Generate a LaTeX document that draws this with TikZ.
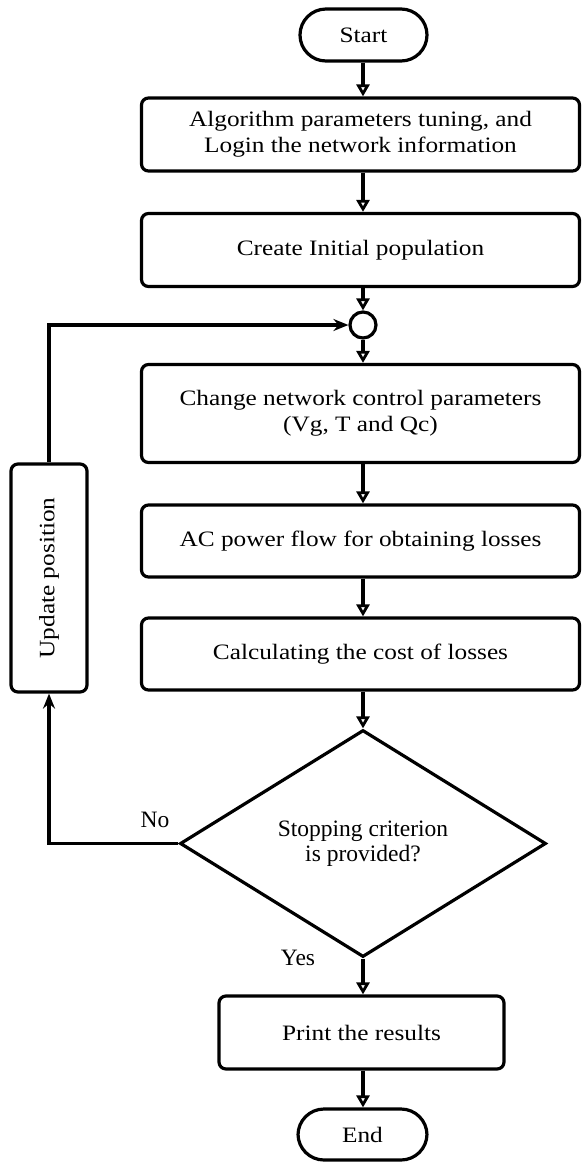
\documentclass[tikz,border=0pt]{standalone}
\usepackage{fontspec}
\setmainfont{Liberation Serif}
\newfontfamily\boxfont[FakeStretch=1.15]{Liberation Serif}
\usetikzlibrary{arrows.meta,shapes.geometric}
\begin{document}
\begin{tikzpicture}[x=1pt,y=-1pt,line width=3.2pt,
  box/.style={draw,rounded corners=7pt,fill=white,align=center,inner sep=0pt,
    font=\boxfont\fontsize{22}{26}\selectfont},
  term/.style={draw,rounded corners=26pt,fill=white,inner sep=0pt,
    font=\boxfont\fontsize{22}{26}\selectfont},
  junction/.style={draw,circle,inner sep=0pt,minimum size=26pt},
  decision/.style={draw,diamond,inner sep=0pt,align=center,
    font=\fontsize{23.5}{25}\selectfont},
  lbl/.style={font=\fontsize{23.5}{25}\selectfont,inner sep=0pt},
  flow/.style={-{Triangle[open,length=12pt,width=13pt,line width=2.8pt]}},
  back/.style={-{Stealth[length=15pt,width=12pt,inset=5pt]}}]
\useasboundingbox (0,0) rectangle (582,1163);

\node[term,minimum width=127pt,minimum height=52pt] (start) at (363.5,35) {Start};
\node[box,minimum width=438pt,minimum height=73pt] (b1) at (360.5,134.5)
  {Algorithm parameters tuning, and\\Login the network information};
\node[box,minimum width=438pt,minimum height=73pt] (b2) at (360.5,250)
  {Create Initial population};
\node[junction] (c) at (363,325) {};
\node[box,minimum width=438pt,minimum height=98pt] (b3) at (360.5,413.5)
  {Change network control parameters\\(Vg, T and Qc)};
\node[box,minimum width=438pt,minimum height=72pt] (b4) at (360.5,541)
  {AC power flow for obtaining losses};
\node[box,minimum width=438pt,minimum height=72pt] (b5) at (360.5,654)
  {Calculating the cost of losses};
\node[decision,minimum width=366pt,minimum height=227pt] (d) at (363,843.5)
  {Stopping criterion\\is provided?};
\node[box,minimum width=285pt,minimum height=73pt] (pr) at (361.5,1032.5)
  {Print the results};
\node[term,minimum width=129pt,minimum height=51pt] (end) at (362.5,1134.5) {End};
\node[box,minimum width=76pt,minimum height=228pt] (up) at (49,578)
  {\rotatebox{90}{Update position}};

\node[lbl] (no) at (155,820) {No};
\node[lbl] (yes) at (298,958) {Yes};

\draw[flow] (start.south -| c) -- (c |- b1.north);
\draw[flow] (b1.south -| c) -- (c |- b2.north);
\draw[flow] (b2.south -| c) -- (c.north);
\draw[flow] (c.south) -- (c |- b3.north);
\draw[flow] (b3.south -| c) -- (c |- b4.north);
\draw[flow] (b4.south -| c) -- (c |- b5.north);
\draw[flow] (b5.south -| c) -- (d.north);
\draw[flow] (d.south) -- (d.south |- pr.north);
\draw[flow] (pr.south -| d.south) -- (d.south |- end.north);
\draw[back] (d.west) -| (up.south);
\draw[back] (up.north) |- (c.west);
\end{tikzpicture}
\end{document}
